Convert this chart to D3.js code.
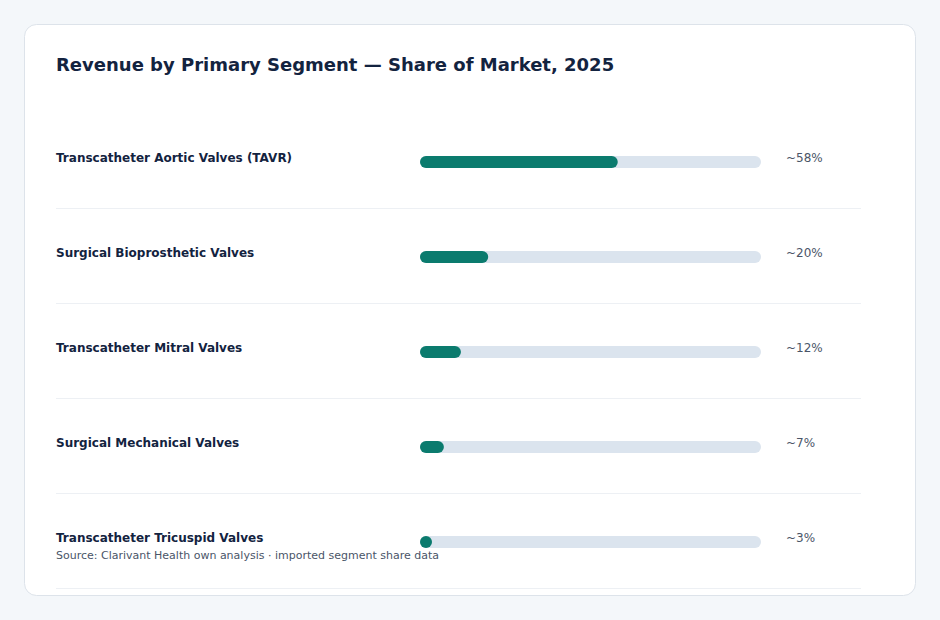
<!DOCTYPE html>
<html lang="en">
<head>
<meta charset="UTF-8">
<title>Revenue by Primary Segment</title>
<script src="https://d3js.org/d3.v7.min.js"></script>
<style>
  body { margin: 0; background: #f4f7fa; font-family: "DejaVu Sans", sans-serif; }
  .title { font-size: 18px; font-weight: bold; fill: #13233f; }
  .label { font-size: 12px; font-weight: bold; fill: #13233f; }
  .value { font-size: 12px; fill: #4a5568; }
  .source { font-size: 11px; fill: #4a5568; }
  .sep { stroke: #edf0f4; stroke-width: 1; }
  .track { fill: #dbe4ee; }
  .bar { fill: #0b7b6e; }
</style>
</head>
<body>
<script>
var width = 940, height = 620;

// data
var categories = [
  "Transcatheter Aortic Valves (TAVR)",
  "Surgical Bioprosthetic Valves",
  "Transcatheter Mitral Valves",
  "Surgical Mechanical Valves",
  "Transcatheter Tricuspid Valves"
];
var shares = [58, 20, 12, 7, 3];
var valueLabels = ["~58%", "~20%", "~12%", "~7%", "~3%"];

var svg = d3.select("body").append("svg")
  .attr("width", width)
  .attr("height", height);

// card
svg.append("rect")
  .attr("x", 24.5).attr("y", 24.5)
  .attr("width", 891).attr("height", 571)
  .attr("rx", 12).attr("ry", 12)
  .attr("fill", "#fff")
  .attr("stroke", "#dde3ea");

svg.append("text")
  .attr("class", "title")
  .attr("x", 56).attr("y", 71)
  .text("Revenue by Primary Segment \u2014 Share of Market, 2025");

var y = d3.scaleBand().domain(categories).range([113, 588]);
var x = d3.scaleLinear().domain([0, 100]).range([420, 761]);
var barH = 12;

var rows = svg.append("g").selectAll("g")
  .data(categories.map(function(c, i) { return { name: c, v: shares[i], lbl: valueLabels[i] }; }))
  .enter().append("g")
  .attr("transform", function(d) { return "translate(0," + y(d.name) + ")"; });

rows.append("line")
  .attr("class", "sep")
  .attr("x1", 56).attr("x2", 861)
  .attr("y1", y.bandwidth() + 0.5).attr("y2", y.bandwidth() + 0.5);

rows.append("text")
  .attr("class", "label")
  .attr("x", 56).attr("y", 49)
  .text(function(d) { return d.name; });

rows.append("rect")
  .attr("class", "track")
  .attr("x", x(0)).attr("y", 43)
  .attr("width", x(100) - x(0)).attr("height", barH)
  .attr("rx", 6).attr("ry", 6);

rows.append("rect")
  .attr("class", "bar")
  .attr("x", x(0)).attr("y", 43)
  .attr("width", function(d) { return Math.max(x(d.v) - x(0), barH); })
  .attr("height", barH)
  .attr("rx", 6).attr("ry", 6);

rows.append("text")
  .attr("class", "value")
  .attr("x", 786).attr("y", 49)
  .text(function(d) { return d.lbl; });

svg.append("text")
  .attr("class", "source")
  .attr("x", 56).attr("y", 559)
  .text("Source: Clarivant Health own analysis \u00b7 imported segment share data");
</script>
</body>
</html>
